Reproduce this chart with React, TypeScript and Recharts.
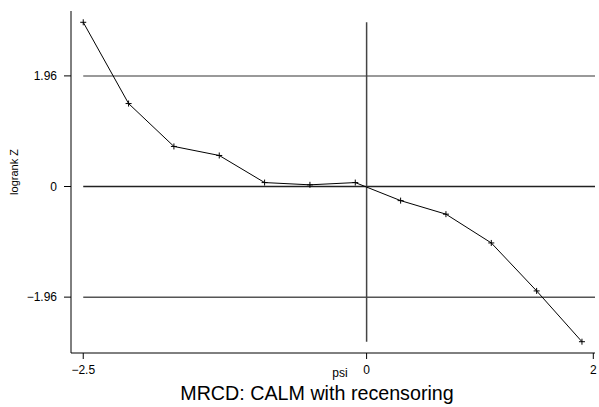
import { LineChart, Line, XAxis, YAxis, ReferenceLine } from 'recharts';

const psiValues = [-2.5, -2.1, -1.7, -1.3, -0.9, -0.5, -0.1, 0.3, 0.7, 1.1, 1.5, 1.9];
const zValues = [2.91, 1.47, 0.71, 0.55, 0.07, 0.03, 0.07, -0.25, -0.49, -1.0, -1.85, -2.75];
const xTicks = [-2.5, 0, 2];
const yTicks = [-1.96, 0, 1.96];

const data = psiValues.map((psi, i) => ({ psi, z: zValues[i] }));

const font = '"Liberation Sans", Arial, Helvetica, sans-serif';
const fmt = (v: number) => (v < 0 ? '\u2212' + String(-v) : String(v));

const PlusDot = (props: any) => {
    const { cx, cy } = props;
    if (cx == null || cy == null) return null;
    return (
        <path
            d={`M${cx - 3},${cy}H${cx + 3}M${cx},${cy - 3}V${cy + 3}`}
            stroke="#000"
            strokeWidth={1}
            fill="none"
        />
    );
};

export default function App() {
    const xMin = psiValues[0];
    const xMax = 2.015;
    return (
        <div style={{ position: 'absolute', left: 0, top: 0, width: 599, height: 407, background: '#fff', fontFamily: font }}>
            <LineChart width={599} height={407} data={data} margin={{ top: 11, right: 4, bottom: 24, left: 0 }}>
                <XAxis
                    dataKey="psi"
                    type="number"
                    domain={[-2.608, xMax]}
                    ticks={xTicks}
                    tickFormatter={fmt}
                    height={30}
                    tickSize={6}
                    tickMargin={6}
                    stroke="#000"
                    tick={{ fill: '#000', fontSize: 12, fontFamily: font }}
                    allowDataOverflow
                />
                <YAxis
                    type="number"
                    domain={[-2.95, 3.11]}
                    ticks={yTicks}
                    tickFormatter={fmt}
                    width={71}
                    tickSize={7}
                    tickMargin={7}
                    stroke="#000"
                    tick={{ fill: '#000', fontSize: 12, fontFamily: font }}
                    allowDataOverflow
                />
                <ReferenceLine segment={[{ x: xMin, y: 1.96 }, { x: xMax, y: 1.96 }]} stroke="#777" strokeWidth={1.5} />
                <ReferenceLine segment={[{ x: xMin, y: 0 }, { x: xMax, y: 0 }]} stroke="#222" strokeWidth={1.5} />
                <ReferenceLine segment={[{ x: xMin, y: -1.96 }, { x: xMax, y: -1.96 }]} stroke="#555" strokeWidth={1.5} />
                <ReferenceLine segment={[{ x: 0, y: Math.max(...zValues) }, { x: 0, y: Math.min(...zValues) }]} stroke="#444" strokeWidth={1.5} />
                <Line
                    dataKey="z"
                    type="linear"
                    stroke="#000"
                    strokeWidth={1}
                    dot={<PlusDot />}
                    activeDot={false}
                    isAnimationActive={false}
                />
            </LineChart>
            <div style={{ position: 'absolute', left: 0, top: 164, width: 28, height: 16, display: 'flex', justifyContent: 'center' }}>
                <div style={{ fontSize: 11, whiteSpace: 'nowrap', transform: 'rotate(-90deg)', lineHeight: '16px' }}>logrank Z</div>
            </div>
            <div style={{ position: 'absolute', left: 290, top: 367, width: 100, textAlign: 'center', fontSize: 12, lineHeight: '12px' }}>psi</div>
            <div style={{ position: 'absolute', left: 117, top: 383, width: 400, textAlign: 'center', fontSize: 19.7, lineHeight: '20px' }}>
                MRCD: CALM with recensoring
            </div>
        </div>
    );
}
